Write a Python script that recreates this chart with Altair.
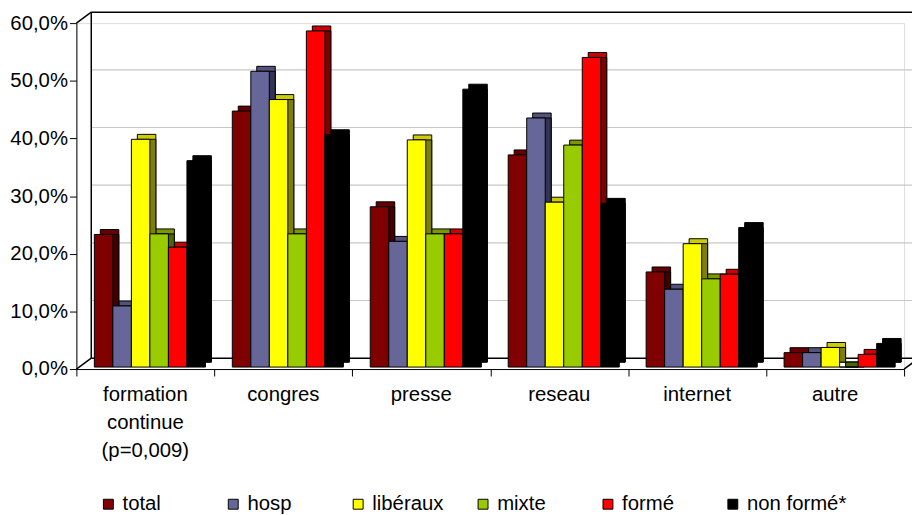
import altair as alt
import pandas as pd

# ---- data ----
categories = ["formation\ncontinue\n(p=0,009)", "congres", "presse", "reseau", "internet", "autre"]
series = ["total", "hosp", "libéraux", "mixte", "formé", "non formé*"]

total = [23.0, 44.4, 27.8, 36.8, 16.5, 2.5]
hosp = [10.6, 51.3, 21.8, 43.2, 13.5, 2.5]
liberaux = [39.5, 46.4, 39.4, 28.6, 21.4, 3.4]
mixte = [23.1, 23.1, 23.1, 38.5, 15.3, 0.0]
forme = [20.8, 58.3, 23.1, 53.7, 16.1, 2.2]
non_forme = [35.8, 40.3, 48.2, 28.4, 24.2, 4.1]

y_ticks = [0, 10, 20, 30, 40, 50, 60]
grid_vals = [10, 20, 30, 40, 50]
frame_vals = [0, 60]

# ---- styles ----
front_colors = ["#800000", "#666699", "#FFFF00", "#99CC00", "#FF0000", "#000000"]
top_colors = ["#660000", "#52527a", "#CCCC00", "#7a9900", "#CC0000", "#000000"]
side_colors = ["#400000", "#333355", "#808000", "#4d6600", "#800000", "#000000"]

FONT = "Liberation Sans"
FS = 20.5
STEP = 7.45   # group step in bar widths
LEAD = 0.97   # offset of first bar in a group
W, H = 835, 349

values = [total, hosp, liberaux, mixte, forme, non_forme]
rows = []
for gi, cat in enumerate(categories):
    for si, name in enumerate(series):
        rows.append({"category": cat, "series": name, "g": gi, "s": si, "value": values[si][gi]})
df = pd.DataFrame(rows)

xscale = alt.Scale(domain=[0, 6 * STEP], nice=False, zero=False)
yscale = alt.Scale(domain=[0, 60], nice=False)

x_axis = alt.Axis(values=[i * STEP for i in range(7)], labels=False, ticks=True, tickSize=7,
                  tickColor="black", domainColor="black", grid=False, title=None)
y_axis = alt.Axis(values=y_ticks, format=".1f", labelExpr="datum.label + '%'",
                  tickSize=7, tickColor="black", domainColor="black", grid=False, title=None,
                  labels=True, labelFont=FONT, labelFontSize=FS, labelColor="black", labelPadding=2)

bars = alt.Chart(df).transform_calculate(
    x0=f"datum.g*{STEP}+{LEAD}+datum.s",
    x1=f"datum.g*{STEP}+{LEAD}+datum.s+1",
    base0="0",
)
enc_common = dict(
    x=alt.X("x0:Q", scale=xscale, axis=x_axis),
    x2="x1:Q",
    y=alt.Y("value:Q", scale=yscale, axis=y_axis),
    y2="base0:Q",
)

top_layer = bars.mark_rect(xOffset=6, x2Offset=6, yOffset=-7, y2Offset=-7,
                           stroke="black", strokeWidth=1).encode(
    color=alt.Color("series:N", scale=alt.Scale(domain=series, range=top_colors), legend=None),
    **enc_common,
)
side_layer = bars.mark_rect(xOffset=6, x2Offset=6, yOffset=-2, y2Offset=-7,
                            stroke="black", strokeWidth=1).encode(
    color=alt.Color("series:N", scale=alt.Scale(domain=series, range=side_colors), legend=None),
    **enc_common,
)
front_layer = bars.mark_rect(yOffset=-2, y2Offset=-2, stroke="black", strokeWidth=1).encode(
    color=alt.Color("series:N", scale=alt.Scale(domain=series, range=front_colors),
                    legend=alt.Legend(orient="none", legendX=22, legendY=475, direction="horizontal",
                                      columns=6, gridAlign="all", title=None, symbolType="square",
                                      symbolSize=100, symbolStrokeColor="black", symbolStrokeWidth=1,
                                      labelFont=FONT, labelFontSize=FS, labelColor="black",
                                      labelOffset=4, columnPadding=1)),
    **enc_common,
)

grid = alt.Chart(pd.DataFrame({"value": grid_vals})).mark_rule(color="#c8c8c8", strokeWidth=1.2, yOffset=-11).encode(
    y=alt.Y("value:Q", scale=yscale, axis=y_axis), x=alt.value(15), x2=alt.value(W + 40))
frame = alt.Chart(pd.DataFrame({"value": frame_vals})).mark_rule(color="black", strokeWidth=1.5, yOffset=-11).encode(
    y=alt.Y("value:Q", scale=yscale, axis=y_axis), x=alt.value(15), x2=alt.value(W + 40))
one = pd.DataFrame({"a": [0]})
back_left = alt.Chart(one).mark_rule(color="black", strokeWidth=1.5).encode(
    x=alt.value(15), y=alt.value(-11), y2=alt.value(H - 11))
diag_top = alt.Chart(one).mark_rule(color="black", strokeWidth=1.5).encode(
    x=alt.value(0), x2=alt.value(15), y=alt.value(0), y2=alt.value(-11))
diag_bot = alt.Chart(one).mark_rule(color="black", strokeWidth=1.5).encode(
    x=alt.value(0), x2=alt.value(15), y=alt.value(H), y2=alt.value(H - 11))
diag_right = alt.Chart(one).mark_rule(color="black", strokeWidth=1.5).encode(
    x=alt.value(W), x2=alt.value(W + 15), y=alt.value(H), y2=alt.value(H - 11))

labels = alt.Chart(pd.DataFrame({"label": categories, "g": list(range(6))})).transform_calculate(
    x0=f"datum.g*{STEP}+{STEP}/2"
).mark_text(baseline="top", lineBreak="\n", lineHeight=28.5, font=FONT, fontSize=FS, color="black").encode(
    x=alt.X("x0:Q", scale=xscale, axis=x_axis), y=alt.value(H + 16), text="label:N")

chart = alt.layer(
    grid, frame, back_left, diag_top, diag_bot, diag_right,
    top_layer, side_layer, front_layer, labels
).resolve_scale(color="independent").properties(
    width=W, height=H,
    autosize=alt.AutoSizeParams(type="none"),
    padding={"left": 69, "top": 13, "right": 8, "bottom": 145},
    background="white",
).configure_view(stroke=None).configure(
    locale={"number": {"decimal": ",", "thousands": " ", "grouping": [3], "currency": ["", " €"]}}
)

chart.save("out.html", embed_options={"renderer": "svg", "actions": False})
